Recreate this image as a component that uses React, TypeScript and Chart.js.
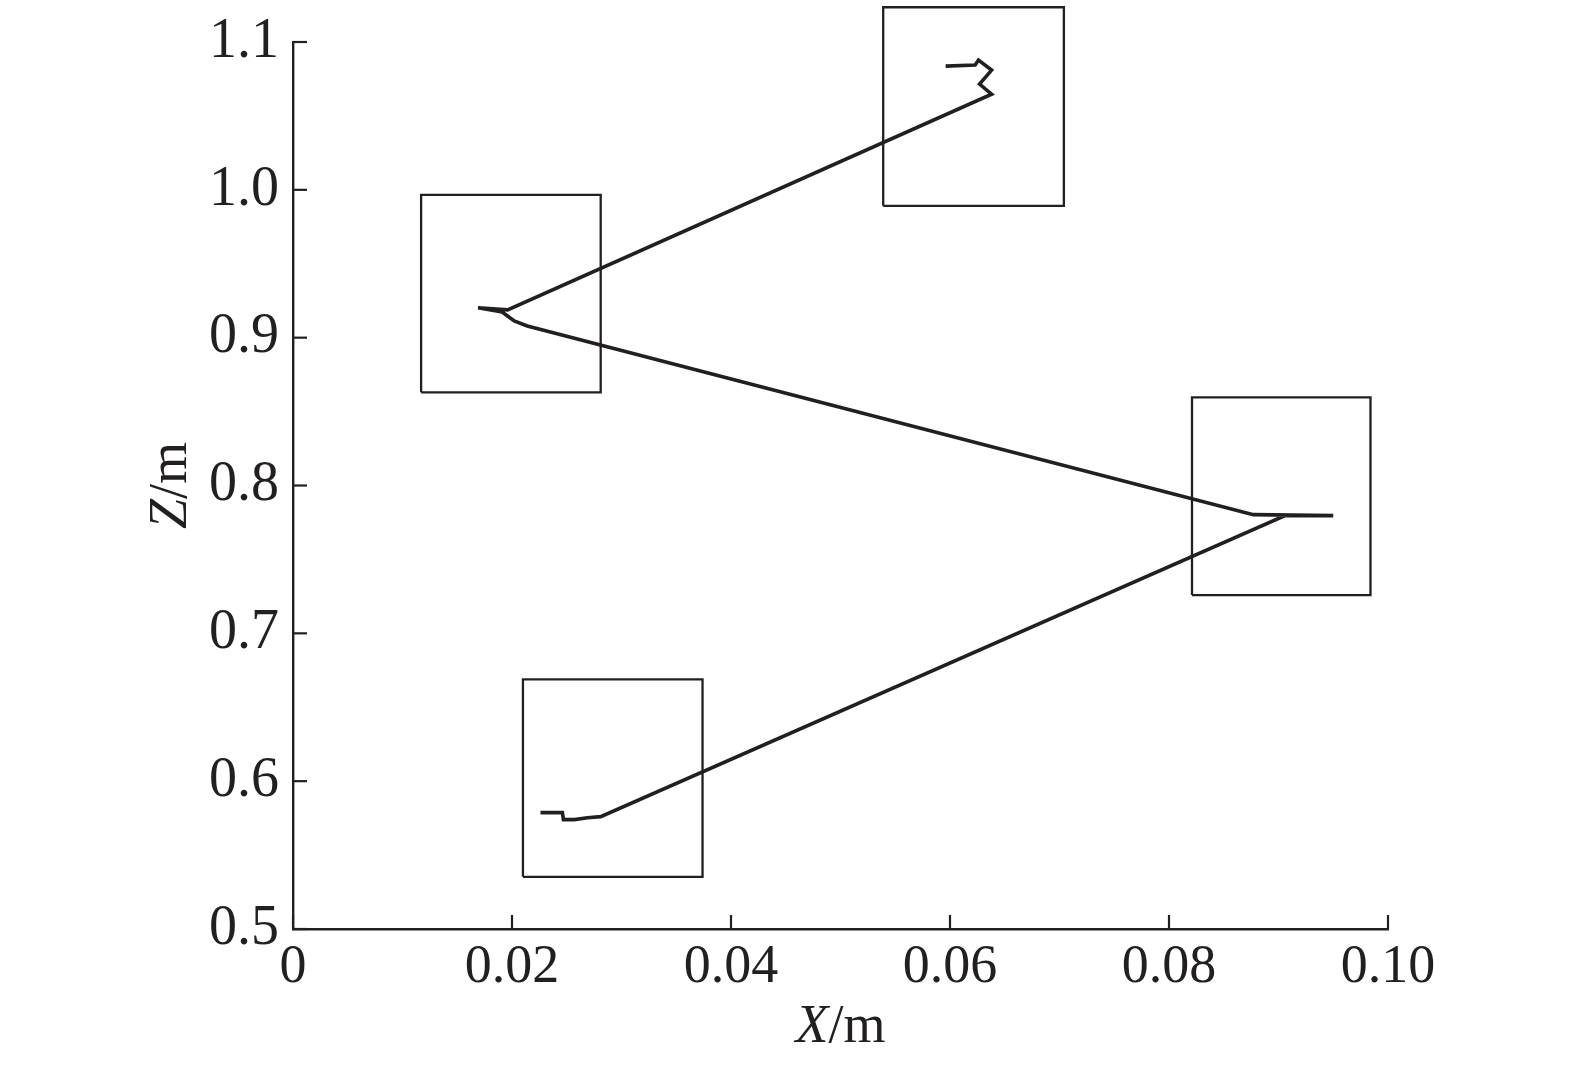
import React, { useEffect, useRef } from "react";
import { Chart, registerables } from "chart.js";

Chart.register(...registerables);

// ---- data ----
const xTickValues = [0, 0.02, 0.04, 0.06, 0.08, 0.1];
const xTickLabels = ["0", "0.02", "0.04", "0.06", "0.08", "0.10"];
const zTickValues = [0.5, 0.6, 0.7, 0.8, 0.9, 1.0, 1.1];
const zTickLabels = ["0.5", "0.6", "0.7", "0.8", "0.9", "1.0", "1.1"];

const xTitleVar = "X";
const zTitleVar = "Z";
const titleUnit = "/m";

// trajectory (X in m, Z in m)
const pathX = [
  0.0226, 0.0246, 0.0247, 0.0257, 0.0269, 0.0281, 0.0906, 0.0950, 0.0877,
  0.0214, 0.0202, 0.0191, 0.0169, 0.0196, 0.0638, 0.0627, 0.0638, 0.0626,
  0.0623, 0.0596,
];
const pathZ = [
  0.5787, 0.5787, 0.574, 0.574, 0.5753, 0.576, 0.7796, 0.7796, 0.7803,
  0.9079, 0.9113, 0.9174, 0.9202, 0.9188, 1.0647, 1.0715, 1.081, 1.0878,
  1.0844, 1.0837,
];

// rectangular boxes
const boxLeft = [0.0539, 0.0117, 0.0821, 0.021];
const boxRight = [0.0704, 0.0281, 0.0984, 0.0374];
const boxBottom = [0.9892, 0.863, 0.7259, 0.5353];
const boxTop = [1.1235, 0.9966, 0.8596, 0.6689];

const INK = "#231f20";
const FONT = '"Liberation Serif", "Times New Roman", serif';

export default function App() {
  const ref = useRef<HTMLCanvasElement | null>(null);

  useEffect(() => {
    if (!ref.current) return;

    const boxSets = boxLeft.map((l, i) => ({
      data: [
        { x: l, y: boxBottom[i] },
        { x: boxRight[i], y: boxBottom[i] },
        { x: boxRight[i], y: boxTop[i] },
        { x: l, y: boxTop[i] },
        { x: l, y: boxBottom[i] },
      ],
      showLine: true,
      borderColor: INK,
      borderWidth: 2.3,
      pointRadius: 0,
      tension: 0,
      clip: false as any,
      fill: false,
    }));

    const pathSet = {
      data: pathX.map((x, i) => ({ x, y: pathZ[i] })),
      showLine: true,
      borderColor: INK,
      borderWidth: 3.6,
      pointRadius: 0,
      tension: 0,
      clip: false as any,
      fill: false,
    };

    const innerTicks = {
      id: "innerTicks",
      afterDatasetsDraw(chart: any) {
        const { ctx, chartArea, scales } = chart;
        ctx.save();
        ctx.strokeStyle = INK;
        ctx.lineWidth = 2.2;
        xTickValues.forEach((v) => {
          const px = scales.x.getPixelForValue(v);
          ctx.beginPath();
          ctx.moveTo(px, chartArea.bottom);
          ctx.lineTo(px, chartArea.bottom - 14);
          ctx.stroke();
        });
        zTickValues.forEach((v) => {
          const py = scales.y.getPixelForValue(v);
          ctx.beginPath();
          ctx.moveTo(chartArea.left, py);
          ctx.lineTo(chartArea.left + 14, py);
          ctx.stroke();
        });
        ctx.restore();
      },
    };

    const axisTitles = {
      id: "axisTitles",
      afterDraw(chart: any) {
        const { ctx, chartArea } = chart;
        const size = 54;
        const italic = `italic ${size}px ${FONT}`;
        const normal = `${size}px ${FONT}`;
        ctx.save();
        ctx.fillStyle = INK;
        ctx.textBaseline = "alphabetic";
        ctx.textAlign = "left";
        // X title
        ctx.font = italic;
        const w1 = ctx.measureText(xTitleVar).width;
        ctx.font = normal;
        const w2 = ctx.measureText(titleUnit).width;
        const cx = (chartArea.left + chartArea.right) / 2 - (w1 + w2) / 2;
        const by = chartArea.bottom + 113;
        ctx.font = italic;
        ctx.fillText(xTitleVar, cx, by);
        ctx.font = normal;
        ctx.fillText(titleUnit, cx + w1, by);
        // Z title (rotated)
        ctx.translate(chartArea.left - 107, (chartArea.top + chartArea.bottom) / 2);
        ctx.rotate(-Math.PI / 2);
        ctx.font = italic;
        const z1 = ctx.measureText(zTitleVar).width;
        ctx.font = normal;
        const z2 = ctx.measureText(titleUnit).width;
        const sx = -(z1 + z2) / 2;
        ctx.font = italic;
        ctx.fillText(zTitleVar, sx, 0);
        ctx.font = normal;
        ctx.fillText(titleUnit, sx + z1, 0);
        ctx.restore();
      },
    };

    const chart = new Chart(ref.current, {
      type: "scatter",
      data: { datasets: [...boxSets, pathSet] as any },
      options: {
        animation: false,
        responsive: false,
        devicePixelRatio: 1,
        layout: { padding: { top: 41, right: 187, left: 0, bottom: 0 } },
        plugins: {
          legend: { display: false },
          tooltip: { enabled: false },
        },
        scales: {
          x: {
            type: "linear",
            min: 0,
            max: 0.1,
            afterBuildTicks: (s: any) => {
              s.ticks = xTickValues.map((v) => ({ value: v }));
            },
            afterFit: (s: any) => {
              s.height = 136;
            },
            grid: { display: false, drawTicks: false },
            border: { display: true, color: INK, width: 2.4 },
            ticks: {
              padding: 12,
              color: INK,
              font: { family: FONT, size: 54, lineHeight: 1 },
              maxRotation: 0,
              autoSkip: false,
              callback: (_v: any, i: number) => xTickLabels[i],
            },
          },
          y: {
            type: "linear",
            min: 0.5,
            max: 1.1,
            afterBuildTicks: (s: any) => {
              s.ticks = zTickValues.map((v) => ({ value: v }));
            },
            afterFit: (s: any) => {
              s.width = 293;
            },
            grid: { display: false, drawTicks: false },
            border: { display: true, color: INK, width: 2.4 },
            ticks: {
              padding: 14,
              color: INK,
              font: { family: FONT, size: 56, lineHeight: 1 },
              autoSkip: false,
              callback: (_v: any, i: number) => zTickLabels[i],
            },
          },
        },
      },
      plugins: [innerTicks, axisTitles],
    });

    return () => chart.destroy();
  }, []);

  return (
    <div style={{ position: "fixed", left: 0, top: 0, width: 1575, height: 1065, background: "#fff" }}>
      <canvas ref={ref} width={1575} height={1065} style={{ display: "block", width: 1575, height: 1065 }} />
    </div>
  );
}
